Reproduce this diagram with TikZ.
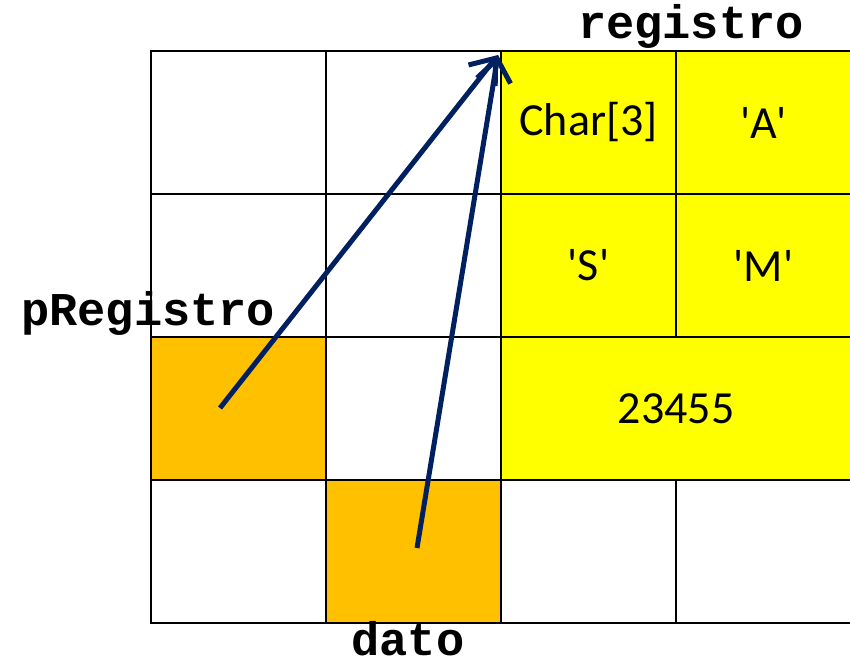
\documentclass[tikz,border=0pt]{standalone}
\usepackage{fontspec}
\setmainfont{Carlito}
\newfontfamily\codefont{Liberation Mono}
\usetikzlibrary{arrows.meta}
\definecolor{regyellow}{HTML}{FFFF00}
\definecolor{ptrorange}{HTML}{FFC000}
\definecolor{ptrblue}{HTML}{002060}
\newcommand{\sq}[1]{\textquotesingle#1\textquotesingle}
\begin{document}
\begin{tikzpicture}[
		x=1pt, y=-1pt,
		cell/.style={draw=black, line width=2pt, fill=white,
			minimum width=175pt, minimum height=143pt,
			inner sep=0pt, outer sep=0pt,
			font=\fontsize{46}{50}\selectfont},
		regcell/.style={cell, fill=regyellow},
		ptrcell/.style={cell, fill=ptrorange},
		lbl/.style={font=\codefont\bfseries\fontsize{47}{50}\selectfont,
			inner sep=0pt},
		ptr/.style={draw=ptrblue, line width=5pt,
			-{Straight Barb[length=22pt, width=34pt, line width=5pt]}}
	]
	\useasboundingbox (0,0) rectangle (850,664);
	% empty memory grid
	\foreach \i in {0,...,3}
		\foreach \j in {0,...,3}
			\node[cell] (g\i\j) at ({238.5+175*\i},{122.5+143*\j}) {};
	% the struct registro
	\node[regcell] (chr) at (588.5,122.5) {Char[3]};
	\node[regcell] (ca) at (763.5,122.5) {\sq{A}};
	\node[regcell] (cs) at (588.5,265.5) {\sq{S}};
	\node[regcell] (cm) at (763.5,265.5) {\sq{M}};
	\node[regcell, minimum width=350pt] (num) at (676,408.5) {23455};
	% pointers
	\node[ptrcell] (preg) at (238.5,408.5) {};
	\node[ptrcell] (pdato) at (413.5,551.5) {};
	% labels
	\node[lbl, anchor=base] (lreg) at (691,38) {registro};
	\node[lbl, anchor=base west] (lpreg) at (21,325) {pRegistro};
	\node[lbl, anchor=base] (ldato) at (408,655) {dato};
	% arrows
	\coordinate (reg) at (498,55);
	\coordinate (pfrom) at (220,408);
	\coordinate (dfrom) at (417,548);
	\draw[ptr] (pfrom) -- (reg);
	\draw[ptr] (dfrom) -- (reg);
\end{tikzpicture}
\end{document}
